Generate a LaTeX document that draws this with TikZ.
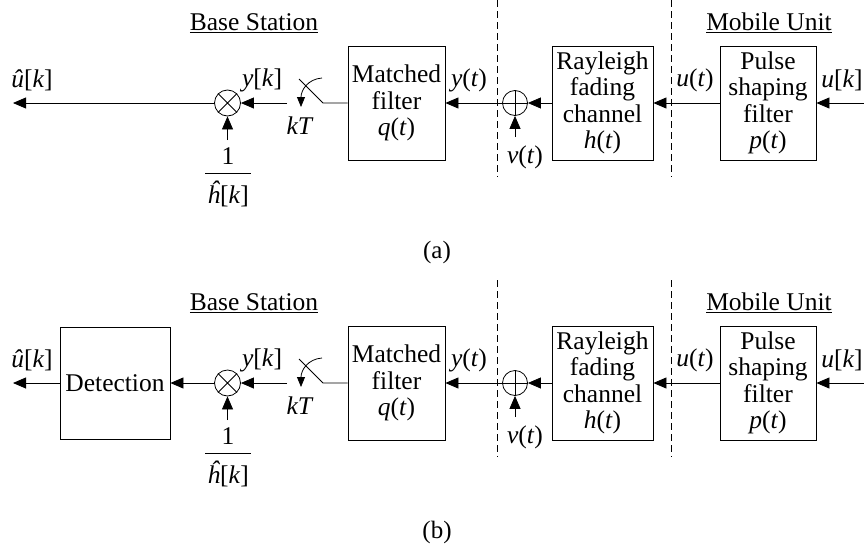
\documentclass[tikz,border=0pt]{standalone}
\usepackage{fontspec}
\setmainfont{Liberation Serif}
\usetikzlibrary{arrows.meta}
\begin{document}
\begin{tikzpicture}[x=1pt,y=-1pt,
  every node/.style={font=\fontsize{25.5}{26.5}\selectfont, inner sep=0pt},
  blk/.style={draw, line width=0.8pt, align=center, minimum height=114pt},
  arr/.style={line width=0.8pt, -{Triangle[length=13pt,width=11pt]}},
  smallarr/.style={line width=0.8pt, -{Triangle[length=10pt,width=8pt]}},
  ln/.style={line width=0.8pt},
  sumnode/.style={draw, circle, line width=0.8pt},
  sep/.style={line width=0.7pt, dash pattern=on 7pt off 4pt},
  captxt/.style={font=\fontsize{25}{26}\selectfont}
]
\useasboundingbox (0,0) rectangle (864,549);

\foreach \p/\s in {a/0,b/-280}{
\begin{scope}[yshift=\s pt]
  % titles
  \node (\p bs) at (254,23) {\underline{Base Station}};
  \node (\p mu) at (769,23) {\underline{Mobile Unit}};
  % separators
  \coordinate (\p d1t) at (497,0);  \coordinate (\p d1b) at (497,177);
  \coordinate (\p d2t) at (671,0);  \coordinate (\p d2b) at (671,177);
  \draw[sep] (\p d1t) -- (\p d1b);
  \draw[sep] (\p d2t) -- (\p d2b);
  % blocks
  \node[blk, minimum width=97pt] (\p mf) at (396.5,103) {Matched\\filter\\\textit{q}(\textit{t})};
  \node[blk, minimum width=101pt] (\p ray) at (602.5,103) {Rayleigh\\fading\\channel\\\textit{h}(\textit{t})};
  \node[blk, minimum width=96pt] (\p ps) at (768,103) {Pulse\\shaping\\filter\\\textit{p}(\textit{t})};
  % multiplier
  \node[sumnode, minimum size=26pt] (\p mul) at (227.5,103) {};
  \draw[ln] (\p mul.north west) -- (\p mul.south east) (\p mul.north east) -- (\p mul.south west);
  % adder
  \node[sumnode, minimum size=25pt] (\p add) at (515,103) {};
  \draw[ln] (\p add.north) -- (\p add.south) (\p add.west) -- (\p add.east);
  % input
  \coordinate (\p in) at (864,103);
  \draw[arr] (\p in) -- (\p ps);
  \node (\p uk) at (842,80) {\textit{u}[\textit{k}]};
  \draw[arr] (\p ps) -- (\p ray);
  \node (\p ut) at (695,80) {\textit{u}(\textit{t})};
  \draw[arr] (\p ray) -- (\p add);
  \coordinate (\p vin) at (515,137);
  \draw[arr] (\p vin) -- (\p add);
  \node (\p vt) at (525,157) {\textit{v}(\textit{t})};
  \draw[arr] (\p add) -- (\p mf);
  \node (\p yt) at (469,80) {\textit{y}(\textit{t})};
  % sampler switch
  \coordinate (\p piv) at (323,103);
  \coordinate (\p swe) at (299,79);
  \coordinate (\p swa) at (322,78);
  \coordinate (\p swb) at (301,107);
  \draw[ln] (\p mf.west) -- (\p piv) -- (\p swe);
  \draw[smallarr] (\p swa) .. controls (308,79) and (301,90) .. (\p swb);
  \node (\p kt) at (300,126) {\textit{kT}};
  \coordinate (\p sws) at (287,103);
  \draw[arr] (\p sws) -- (\p mul);
  \node (\p yk) at (262,80) {\textit{y}[\textit{k}]};
  % 1/h
  \coordinate (\p hin) at (227.5,140);
  \draw[arr] (\p hin) -- (\p mul);
  \node (\p frac) at (228,179) {\setlength{\arrayrulewidth}{0.8pt}\begin{tabular}{@{\hspace{2pt}}c@{\hspace{2pt}}}1\\\hline\rule{0pt}{30pt}\textit{ĥ}[\textit{k}]\end{tabular}};
  % output label
  \node (\p uh) at (32,80) {\textit{û}[\textit{k}]};
\end{scope}
}

% (a) output
\coordinate (aout) at (13,103);
\draw[arr] (amul) -- (aout);
\node[captxt] (capa) at (437,252) {(a)};

% (b) detection
\node[blk, minimum width=110pt, minimum height=112pt] (det) at (115,383) {Detection};
\draw[arr] (bmul) -- (det);
\coordinate (bout) at (13,383);
\draw[arr] (det) -- (bout);
\node[captxt] (capb) at (437,532) {(b)};
\end{tikzpicture}
\end{document}
